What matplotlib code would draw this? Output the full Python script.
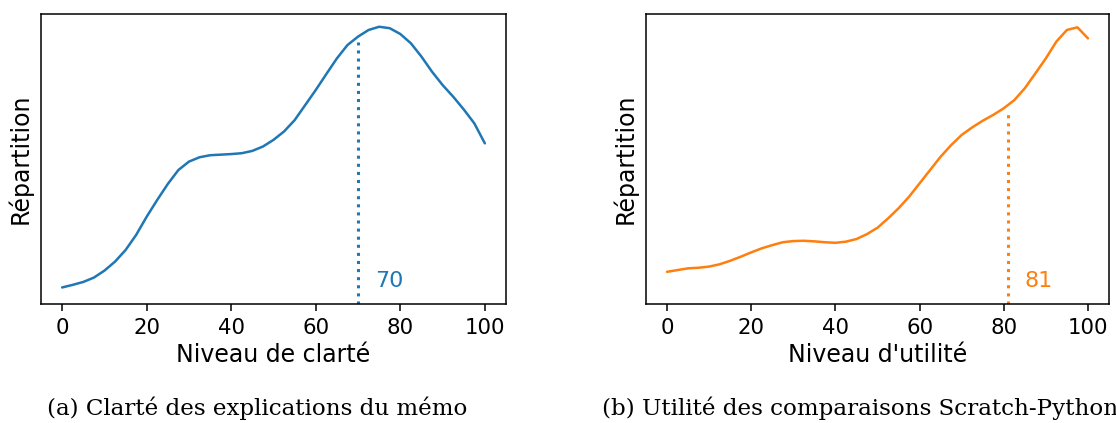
import matplotlib.pyplot as plt

# niveau (0-100) et densité (fraction de la hauteur des axes)
niveaux = [0, 2.5, 5, 7.5, 10, 12.5, 15, 17.5, 20, 22.5, 25, 27.5, 30, 32.5, 35, 37.5,
           40, 42.5, 45, 47.5, 50, 52.5, 55, 57.5, 60, 62.5, 65, 67.5, 70, 72.5, 75,
           77.5, 80, 82.5, 85, 87.5, 90, 92.5, 95, 97.5, 100]

clarte = [0.057, 0.066, 0.076, 0.091, 0.115, 0.146, 0.186, 0.238, 0.301, 0.359, 0.414,
          0.462, 0.491, 0.506, 0.513, 0.515, 0.517, 0.520, 0.528, 0.543, 0.566, 0.595,
          0.634, 0.686, 0.738, 0.793, 0.847, 0.893, 0.922, 0.945, 0.956, 0.951, 0.931,
          0.899, 0.853, 0.801, 0.755, 0.715, 0.671, 0.623, 0.554]

utilite = [0.111, 0.117, 0.123, 0.125, 0.129, 0.137, 0.149, 0.163, 0.178, 0.192, 0.203,
           0.213, 0.217, 0.218, 0.216, 0.213, 0.211, 0.215, 0.224, 0.241, 0.263, 0.295,
           0.330, 0.370, 0.416, 0.462, 0.508, 0.548, 0.583, 0.609, 0.632, 0.652, 0.675,
           0.703, 0.744, 0.795, 0.847, 0.905, 0.945, 0.954, 0.916]

mediane_clarte = 70
mediane_utilite = 81

W, H = 1116, 423
fig = plt.figure(figsize=(W / 100, H / 100), dpi=100)

ax1 = fig.add_axes([41 / W, 119 / H, 465 / W, 290 / H])
ax2 = fig.add_axes([646 / W, 119 / H, 463 / W, 290 / H])

panneaux = [
    (ax1, clarte, mediane_clarte, "#1f77b4", "Niveau de clarté"),
    (ax2, utilite, mediane_utilite, "#ff7f0e", "Niveau d'utilité"),
]

for ax, dens, med, col, xlab in panneaux:
    ax.plot(niveaux, dens, color=col, lw=1.8, solid_joinstyle="round",
            solid_capstyle="round")
    # hauteur de la courbe à la médiane
    i = max(k for k, v in enumerate(niveaux) if v <= med)
    if niveaux[i] == med:
        h = dens[i]
    else:
        t = (med - niveaux[i]) / (niveaux[i + 1] - niveaux[i])
        h = dens[i] + t * (dens[i + 1] - dens[i])
    ax.vlines(med, 0, h - 0.02, colors=col, linestyles=":", lw=2.2)
    ax.text(med + 4, 0.045, str(med), color=col, fontsize=16, ha="left", va="bottom")
    ax.set_xlim(-5, 105)
    ax.set_ylim(0, 1)
    ax.set_yticks([])
    ax.set_xticks([0, 20, 40, 60, 80, 100])
    ax.tick_params(axis="x", labelsize=15.3, length=5, width=1.1, pad=5)
    for s in ax.spines.values():
        s.set_linewidth(1.1)
    ax.set_xlabel(xlab, fontsize=17, labelpad=4)
    ax.set_ylabel("Répartition", fontsize=17, labelpad=6)

fig.text(257 / W, 1 - 408 / H, "(a) Clarté des explications du mémo",
         family="DejaVu Serif", fontsize=16.6, ha="center", va="center")
fig.text(602 / W, 1 - 408 / H, "(b) Utilité des comparaisons Scratch-Python",
         family="DejaVu Serif", fontsize=16.6, ha="left", va="center")

fig.savefig("out.png", dpi=100)
